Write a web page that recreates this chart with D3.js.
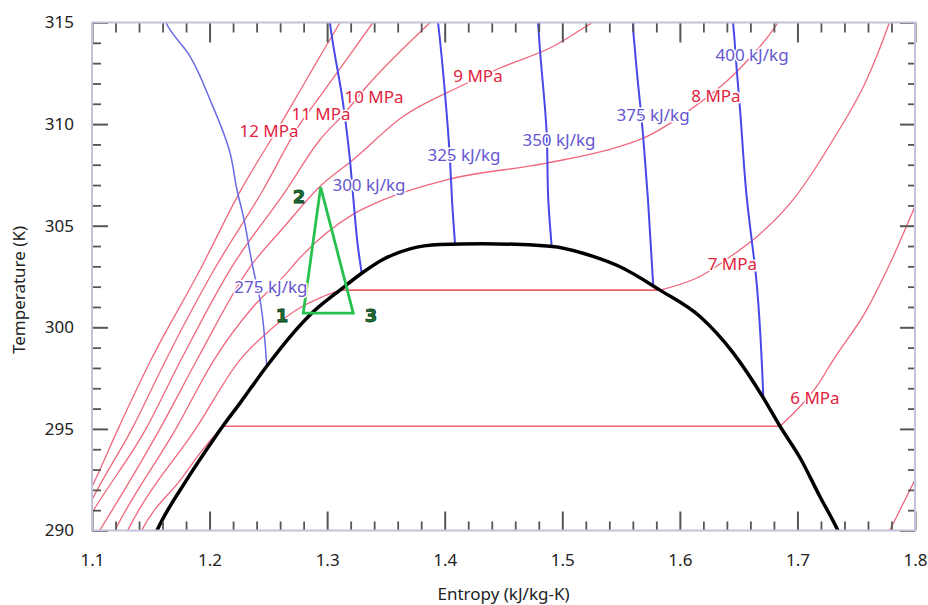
<!DOCTYPE html>
<html>
<head>
<meta charset="utf-8">
<script src="https://cdn.jsdelivr.net/npm/d3@7"></script>
<style>
  body { margin: 0; background: #fff; }
  svg { display: block; }
</style>
</head>
<body>
<div id="chart"></div>
<script>
// tick values
const xMajor = [1.1, 1.2, 1.3, 1.4, 1.5, 1.6, 1.7, 1.8]
const yMajor = [290, 295, 300, 305, 310, 315]

// saturation dome, [entropy, temperature]
const dome = [
  [1.1506, 289.38], [1.1553, 290.00], [1.1805, 292.49], [1.2032, 294.47], [1.2112, 295.13],
  [1.2259, 296.27], [1.2486, 298.08], [1.2684, 299.53], [1.2882, 300.76], [1.3109, 301.83],
  [1.3294, 302.66], [1.3478, 303.35], [1.3705, 303.86], [1.3960, 304.07], [1.4326, 304.11],
  [1.4896, 303.99], [1.5262, 303.49], [1.5491, 302.98], [1.5831, 301.83], [1.6171, 300.53],
  [1.6455, 298.73], [1.6710, 296.53], [1.6852, 295.13], [1.7022, 293.58], [1.7192, 291.66],
  [1.7334, 290.12], [1.7360, 289.80]
]

// isobars
const p12 = [[1.0898, 290.92], [1.1000, 292.15], [1.1230, 295.10], [1.1502, 298.40], [1.1919, 302.83],
  [1.2259, 306.68], [1.2625, 310.21], [1.2939, 313.33], [1.3109, 315.00], [1.3160, 315.53]]
const p11 = [[1.0898, 290.28], [1.1000, 291.51], [1.1349, 295.10], [1.1629, 298.40], [1.2038, 302.83],
  [1.2446, 306.67], [1.2769, 310.01], [1.2939, 311.36], [1.3390, 315.00], [1.3450, 315.48]]
const p10 = [[1.0940, 290.28], [1.1000, 290.87], [1.1468, 295.10], [1.1757, 298.40], [1.2174, 302.83],
  [1.2642, 306.67], [1.2939, 309.23], [1.3152, 310.56], [1.3336, 311.85], [1.3875, 315.00], [1.3960, 315.48]]
const p9 = [[1.1026, 289.64], [1.1068, 290.03], [1.1587, 295.10], [1.1893, 298.40], [1.2327, 302.83],
  [1.2642, 305.00], [1.2939, 306.93], [1.3220, 308.24], [1.3645, 310.37], [1.4130, 311.85],
  [1.4470, 312.76], [1.4921, 313.82], [1.5261, 315.00], [1.5406, 315.43]]
const p8 = [[1.1153, 289.54], [1.1196, 290.03], [1.1723, 295.10], [1.2038, 298.40], [1.2386, 301.11],
  [1.2642, 302.58], [1.2769, 303.42], [1.3237, 305.62], [1.3475, 306.27], [1.4017, 307.26],
  [1.4867, 308.08], [1.5491, 308.90], [1.5689, 309.31], [1.6086, 310.70], [1.6486, 312.59],
  [1.6792, 314.64], [1.6835, 315.00], [1.6877, 315.43]]
const p7Liquid = [[1.1264, 289.54], [1.1306, 290.03], [1.1893, 295.10], [1.2259, 298.40], [1.2488, 299.73],
  [1.2769, 300.96], [1.2939, 301.45], [1.3109, 301.83]]
const p7Vapor = [[1.5831, 301.83], [1.6171, 302.50], [1.6452, 303.57], [1.6657, 304.47], [1.6962, 306.27],
  [1.7303, 309.23], [1.7589, 312.18], [1.7770, 314.80], [1.7796, 315.23]]
const p6Liquid = [[1.1383, 289.54], [1.1425, 290.03], [1.1766, 292.59], [1.1919, 293.81], [1.2112, 295.13]]
const p6Vapor = [[1.6852, 295.13], [1.7022, 296.10], [1.7164, 297.09], [1.7305, 298.40], [1.7589, 300.86],
  [1.7815, 303.48], [1.8000, 305.94], [1.8085, 307.01]]
const p5Vapor = [[1.7702, 289.05], [1.7787, 290.03], [1.8000, 292.49], [1.8085, 293.48]]

// isenthalps
const h275 = [[1.1604, 315.43], [1.1629, 315.00], [1.1834, 313.33], [1.2004, 311.20], [1.2174, 308.59],
  [1.2233, 306.77], [1.2284, 305.54], [1.2369, 302.93], [1.2429, 301.35], [1.2486, 298.08]]
const h300 = [[1.3016, 315.43], [1.3024, 315.00], [1.3135, 311.05], [1.3194, 308.24], [1.3220, 306.52],
  [1.3262, 303.96], [1.3294, 302.66]]
const h325 = [[1.3934, 315.43], [1.3943, 315.00], [1.4002, 311.54], [1.4045, 308.24], [1.4062, 306.27],
  [1.4088, 304.09]]
const h350 = [[1.4785, 315.43], [1.4793, 315.00], [1.4810, 313.66], [1.4867, 309.57], [1.4881, 306.27],
  [1.4910, 303.98]]
const h375 = [[1.5601, 315.43], [1.5601, 315.00], [1.5618, 313.66], [1.5689, 309.33], [1.5729, 306.27],
  [1.5774, 302.02]]
const h400 = [[1.6444, 315.43], [1.6452, 315.00], [1.6486, 312.52], [1.6512, 310.70], [1.6571, 306.27],
  [1.6614, 304.16], [1.6639, 302.98], [1.6710, 296.53]]

// labels placed on the curves
const isobarLabels = [
  [1.2506, 309.67, "12 MPa"], [1.2948, 310.51, "11 MPa"], [1.3399, 311.34, "10 MPa"],
  [1.4283, 312.38, "9 MPa"], [1.6307, 311.39, "8 MPa"], [1.6447, 303.10, "7 MPa"], [1.7149, 296.51, "6 MPa"]
]
const enthalpyLabels = [
  [1.2522, 301.99, "275 kJ/kg"], [1.3356, 307.01, "300 kJ/kg"], [1.4164, 308.49, "325 kJ/kg"],
  [1.4972, 309.23, "350 kJ/kg"], [1.5772, 310.46, "375 kJ/kg"], [1.6614, 313.41, "400 kJ/kg"]
]

// cycle 1-2-3
const cycle = [[1.2797, 300.70], [1.2945, 306.90], [1.3222, 300.70]]
const cycleLabels = [[1.2616, 300.57, "1"], [1.2761, 306.42, "2"], [1.3373, 300.57, "3"]]

const width = 928
const height = 605
const margin = { top: 22.5, right: 13, bottom: 74.5, left: 92 }
const font = '"Noto Sans", "Open Sans", sans-serif'

const svg = d3.select("#chart")
  .append("svg")
  .attr("width", width)
  .attr("height", height)

svg.append("rect").attr("width", width).attr("height", height).attr("fill", "#fff")

const x = d3.scaleLinear().domain([1.1, 1.8]).range([margin.left, width - margin.right])
const y = d3.scaleLinear().domain([290, 315]).range([height - margin.bottom, margin.top])

svg.append("clipPath").attr("id", "plot")
  .append("rect")
  .attr("x", x(1.1)).attr("y", y(315))
  .attr("width", x(1.8) - x(1.1)).attr("height", y(290) - y(315))

const plot = svg.append("g").attr("clip-path", "url(#plot)")

const lineX = d3.line().x(d => x(d[0])).y(d => y(d[1])).curve(d3.curveMonotoneX)
const lineY = d3.line().x(d => x(d[0])).y(d => y(d[1])).curve(d3.curveMonotoneY)
const straight = d3.line().x(d => x(d[0])).y(d => y(d[1]))

// red isobars
const isobars = [p12, p11, p10, p9, p8, p7Liquid, p7Vapor, p6Liquid, p6Vapor, p5Vapor]
plot.selectAll(".isobar")
  .data(isobars)
  .join("path")
  .attr("class", "isobar")
  .attr("d", lineX)
  .attr("fill", "none")
  .attr("stroke", "#f0687e")
  .attr("stroke-width", 1.3)

// flat parts under the dome
const flats = [
  [p7Liquid[p7Liquid.length - 1], p7Vapor[0]],
  [p6Liquid[p6Liquid.length - 1], p6Vapor[0]]
]
plot.selectAll(".flat")
  .data(flats)
  .join("path")
  .attr("class", "flat")
  .attr("d", straight)
  .attr("fill", "none")
  .attr("stroke", "#f0606e")
  .attr("stroke-width", 1.6)

// blue isenthalps
plot.selectAll(".isenthalp")
  .data([h275, h300, h325, h350, h375, h400])
  .join("path")
  .attr("class", "isenthalp")
  .attr("d", lineY)
  .attr("fill", "none")
  .attr("stroke", (d, i) => i === 0 ? "#6a6ae4" : "#4848e8")
  .attr("stroke-width", (d, i) => i === 0 ? 1.5 : 2)

// dome
plot.append("path")
  .attr("d", lineX(dome))
  .attr("fill", "none")
  .attr("stroke", "#000")
  .attr("stroke-width", 3.5)
  .attr("stroke-linejoin", "round")

// cycle triangle
plot.append("path")
  .attr("d", straight(cycle) + "Z")
  .attr("fill", "none")
  .attr("stroke", "#26c14e")
  .attr("stroke-width", 2.8)

const addLabels = (data, color) => {
  svg.append("g")
    .selectAll("text")
    .data(data)
    .join("text")
    .attr("x", d => x(d[0]))
    .attr("y", d => y(d[1]))
    .attr("dy", "0.35em")
    .attr("text-anchor", "middle")
    .attr("font-family", font)
    .attr("font-size", 17)
    .attr("fill", color)
    .attr("stroke", "#fff")
    .attr("stroke-width", 3)
    .attr("stroke-linejoin", "round")
    .attr("paint-order", "stroke")
    .text(d => d[2])
}
addLabels(isobarLabels, "#e0243e")
addLabels(enthalpyLabels, "#6656d0")

svg.append("g")
  .selectAll("text")
  .data(cycleLabels)
  .join("text")
  .attr("x", d => x(d[0]))
  .attr("y", d => y(d[1]))
  .attr("dy", "0.36em")
  .attr("text-anchor", "middle")
  .attr("font-family", '"DejaVu Sans", sans-serif')
  .attr("font-weight", "bold")
  .attr("font-size", 18)
  .attr("fill", "#1c7036")
  .attr("stroke", "#0b3f1b")
  .attr("stroke-width", 0.8)
  .text(d => d[2])

// axes, ticks pointing inside the frame
const xMinor = d3.range(1.1, 1.8001, 0.02).filter(v => Math.abs(v * 10 - Math.round(v * 10)) > 1e-6)
const yMinor = d3.range(290, 315.001, 1).filter(v => v % 5 !== 0)

const styleAxis = (g, w) => {
  g.select(".domain").remove()
  g.selectAll(".tick line").attr("stroke", "#555").attr("stroke-width", w)
  g.attr("font-family", font).attr("font-size", 17).attr("color", "#222")
}

const axes = [
  [d3.axisBottom(x).tickValues(xMinor).tickSize(-9).tickFormat(""), `translate(0,${y(290)})`, 1.8],
  [d3.axisBottom(x).tickValues(xMajor).tickSize(-19).tickPadding(23).tickFormat(d3.format(".1f")), `translate(0,${y(290)})`, 2],
  [d3.axisTop(x).tickValues(xMinor).tickSize(-10).tickFormat(""), `translate(0,${y(315)})`, 1.8],
  [d3.axisTop(x).tickValues(xMajor).tickSize(-20).tickFormat(""), `translate(0,${y(315)})`, 2],
  [d3.axisLeft(y).tickValues(yMinor).tickSize(-9).tickFormat(""), `translate(${x(1.1)},0)`, 1.8],
  [d3.axisLeft(y).tickValues(yMajor).tickSize(-16).tickPadding(18), `translate(${x(1.1)},0)`, 2],
  [d3.axisRight(y).tickValues(yMinor).tickSize(-7).tickFormat(""), `translate(${x(1.8)},0)`, 1.8],
  [d3.axisRight(y).tickValues(yMajor).tickSize(-15).tickFormat(""), `translate(${x(1.8)},0)`, 2]
]
axes.forEach(([axis, transform, w]) => {
  svg.append("g").attr("transform", transform).call(axis).call(g => styleAxis(g, w))
})

// frame
svg.append("rect")
  .attr("x", x(1.1)).attr("y", y(315))
  .attr("width", x(1.8) - x(1.1)).attr("height", y(290) - y(315))
  .attr("fill", "none")
  .attr("stroke", "#c2c2da")
  .attr("stroke-width", 2)

// axis titles
svg.append("text")
  .attr("x", (x(1.1) + x(1.8)) / 2)
  .attr("y", 600)
  .attr("text-anchor", "middle")
  .attr("font-family", font)
  .attr("font-size", 17)
  .attr("fill", "#222")
  .text("Entropy (kJ/kg-K)")

svg.append("text")
  .attr("transform", "translate(25,290) rotate(-90)")
  .attr("text-anchor", "middle")
  .attr("font-family", font)
  .attr("font-size", 17)
  .attr("fill", "#222")
  .text("Temperature (K)")
</script>
</body>
</html>
